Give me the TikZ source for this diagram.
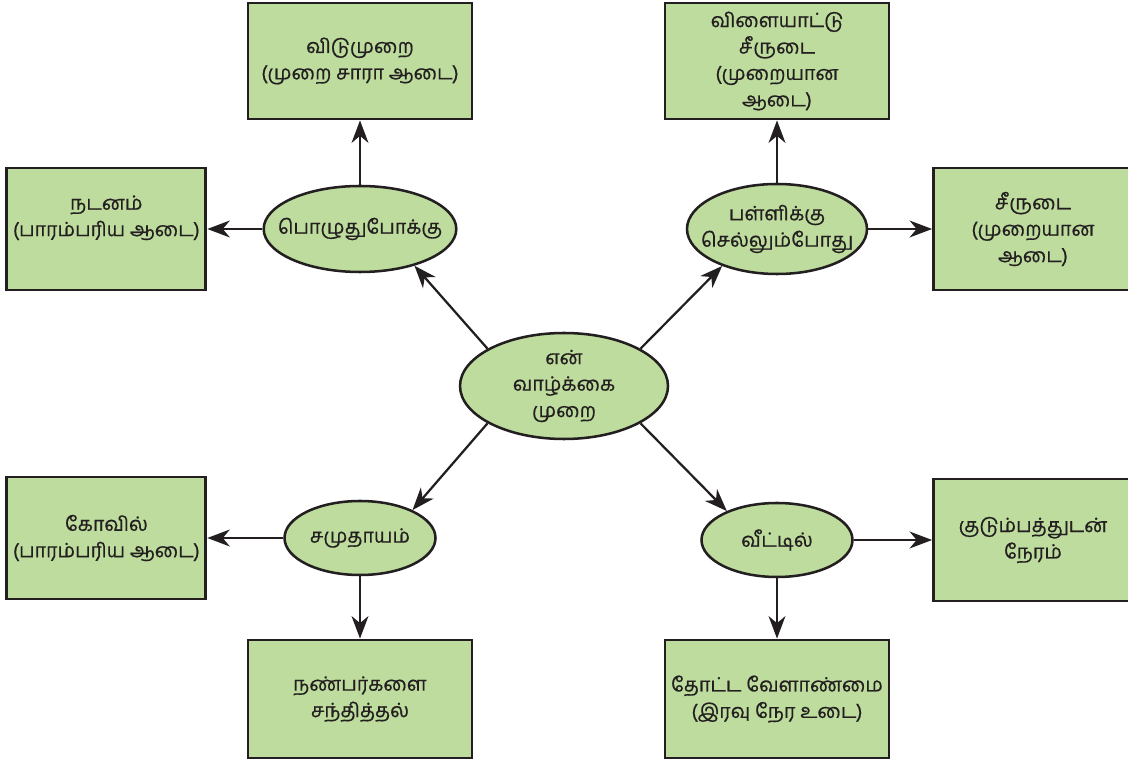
\documentclass[tikz,border=0pt]{standalone}
\usepackage{fontspec}
\setmainfont[Script=Tamil,FakeBold=0.6]{Hind Madurai}
\usepackage{tikz}
\usetikzlibrary{positioning,shapes.geometric,arrows.meta}
\definecolor{leafgreen}{RGB}{190,220,157}
\definecolor{ink}{RGB}{35,31,32}

\begin{document}
\begin{tikzpicture}[box/.style = {draw=ink, line width=2pt, fill=leafgreen, align=center, text=ink, font=\fontsize{14}{18.8}\selectfont},
        wide/.style = {box, minimum width=5.6cm, minimum height=2.9cm},
        side/.style = {box, minimum width=4.975cm, minimum height=3.05cm},
        hub/.style = {box, ellipse, line width=1.8pt, inner sep=0pt},
        arr/.style = {draw=ink, line width=1.6pt, -{Stealth[length=16pt,width=12pt,inset=5pt]}},
        on grid]
        \useasboundingbox (0,0) rectangle (28.2,19.075);
        \node[hub, minimum width=5.2cm, minimum height=2.65cm] (0) at (14.1,9.425) {என்\\வாழ்க்கை\\முறை};
        \node[hub, minimum width=4.5cm, minimum height=2.15cm, inner xsep=-10pt] (1) [above left=3.925cm and 5.1cm of 0] {பொழுதுபோக்கு};
        \node[hub, minimum width=4.5cm, minimum height=2.25cm, inner xsep=-10pt] (2) [above right=3.925cm and 5.325cm of 0] {பள்ளிக்கு\\செல்லும்போது};
        \node[hub, minimum width=3.775cm, minimum height=1.85cm] (3) [below left=3.8cm and 5.1cm of 0] {சமுதாயம்};
        \node[hub, minimum width=3.775cm, minimum height=1.85cm] (4) [below right=3.85cm and 5.325cm of 0] {வீட்டில்};
        \node[wide] (5) [above=4.2cm of 1] {விடுமுறை\\(முறை சாரா ஆடை)};
        \node[side] (6) [left=6.34cm of 1] {நடனம்\\(பாரம்பரிய ஆடை)\\ };
        \node[wide] (7) [above=4.2cm of 2] {விளையாட்டு\\சீருடை\\(முறையான\\ஆடை)};
        \node[side] (8) [right=6.4cm of 2] {சீருடை\\(முறையான\\ஆடை)};
        \node[side] (9) [left=6.34cm of 3] {கோவில்\\(பாரம்பரிய ஆடை)};
        \node[wide, minimum height=2.95cm] (10) [below=4.025cm of 3] {நண்பர்களை\\சந்தித்தல்};
        \node[side] (11) [right=6.4cm of 4] {குடும்பத்துடன்\\நேரம்};
        \node[wide, minimum height=2.95cm] (12) [below=3.975cm of 4] {தோட்ட வேளாண்மை\\(இரவு நேர உடை)};
        \draw[arr] (0.154) -- (1.-34);
        \draw[arr] (0.26) -- (2.214);
        \draw[arr] (0.206) -- (3.28);
        \draw[arr] (0.-26) -- (4.150);
        \draw[arr] (1) -- (5);
        \draw[arr] (1) -- (6);
        \draw[arr] (2) -- (7);
        \draw[arr] (2) -- (8);
        \draw[arr] (3) -- (9);
        \draw[arr] (3) -- (10);
        \draw[arr] (4) -- (11);
        \draw[arr] (4) -- (12);
\end{tikzpicture}
\end{document}
